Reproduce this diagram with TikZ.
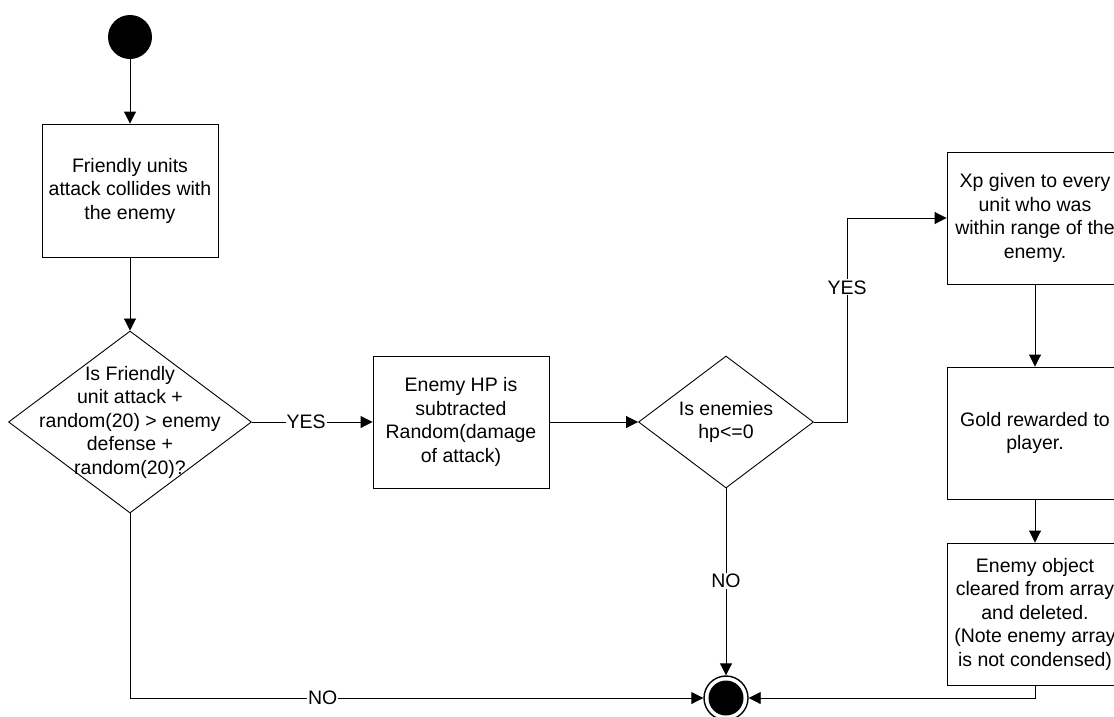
\documentclass[tikz,border=0pt]{standalone}
\usepackage{fontspec}
\setmainfont{Liberation Sans}
\usetikzlibrary{shapes.geometric,arrows.meta}
\begin{document}
\begin{tikzpicture}[x=1pt,y=-1pt,
  every node/.style={font=\fontsize{19.5}{23.5}\selectfont},
  actbox/.style={draw, rectangle, line width=0.9pt, inner sep=0pt, align=center},
  decide/.style={draw, diamond, line width=0.9pt, inner sep=0pt},
  flow/.style={line width=0.9pt, -{Triangle[length=12pt,width=12pt]}},
  lbl/.style={fill=white, inner sep=1pt}]
  \useasboundingbox (0,0) rectangle (1114,716);

  % initial and final states
  \node (start) [circle, fill=black, minimum size=44pt, inner sep=0pt] at (130,37) {};
  \node (stop) [circle, draw, line width=1.4pt, minimum size=44pt, inner sep=0pt] at (726,698) {};
  \fill (stop.center) circle (17.5pt);

  % activities
  \node (attack) [actbox, minimum width=176pt, minimum height=133pt] at (130,190.5)
    {Friendly units\\attack collides with\\the enemy};
  \node (damage) [actbox, minimum width=176pt, minimum height=132pt] at (461,422)
    {Enemy HP is\\subtracted\\Random(damage\\of attack)};
  \node (xp) [actbox, minimum width=176pt, minimum height=132pt] at (1035,218)
    {Xp given to every\\unit who was\\within range of the\\enemy.};
  \node (gold) [actbox, minimum width=176pt, minimum height=132pt] at (1035,433)
    {Gold rewarded to\\player.};
  \node (clear) [actbox, minimum width=176pt, minimum height=142pt] at (1035,614)
    {Enemy object\\cleared from array\\and deleted.\\(Note enemy array\\is not condensed)};

  % decisions
  \node (hit) [decide, minimum width=243pt, minimum height=182pt] at (130,422) {};
  \node (hittext) [align=center] at (hit.center)
    {Is Friendly\\unit attack +\\random(20) > enemy\\defense +\\random(20)?};
  \node (dead) [decide, minimum width=175pt, minimum height=132pt] at (726,422) {};
  \node (deadtext) [align=center] at (dead.center) {Is enemies\\hp<=0};

  % control flow
  \draw[flow] (start) -- (attack);
  \draw[flow] (attack) -- (hit);
  \draw[flow] (hit.east) -- node[lbl, pos=0.45] {YES} (damage.west);
  \draw[flow] (damage) -- (dead.west);
  \coordinate (yesbend) at (847,422);
  \draw[flow] (dead.east) -- (yesbend) |- node[lbl, pos=0.33] {YES} (xp.west);
  \draw[flow] (dead.south) -- node[lbl, pos=0.495] {NO} (stop.north);
  \draw[flow] (hit.south) |- node[lbl, pos=0.668] {NO} (stop.west);
  \draw[flow] (xp) -- (gold);
  \draw[flow] (gold) -- (clear);
  \draw[flow] (clear.south) |- (stop.east);
\end{tikzpicture}
\end{document}
